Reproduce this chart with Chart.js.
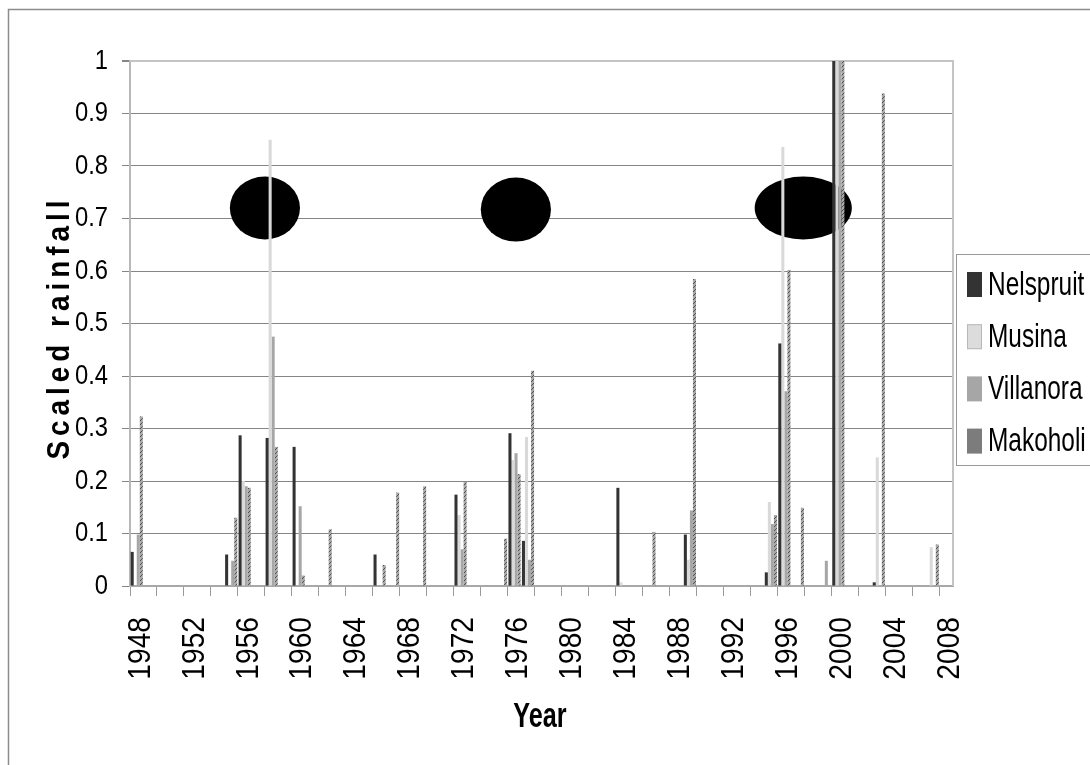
<!DOCTYPE html>
<html><head><meta charset="utf-8">
<script src="https://cdn.jsdelivr.net/npm/chart.js@4/dist/chart.umd.min.js"></script>
<style>html,body{margin:0;padding:0;background:#fff;overflow:hidden}canvas{display:block}</style>
</head><body>
<canvas id="c" width="1090" height="765" style="width:1090px;height:765px"></canvas>
<script>
// ---------- data ----------
const years = [
  '1948','1949','1950','1951','1952','1953','1954','1955','1956','1957',
  '1958','1959','1960','1961','1962','1963','1964','1965','1966','1967',
  '1968','1969','1970','1971','1972','1973','1974','1975','1976','1977',
  '1978','1979','1980','1981','1982','1983','1984','1985','1986','1987',
  '1988','1989','1990','1991','1992','1993','1994','1995','1996','1997',
  '1998','1999','2000','2001','2002','2003','2004','2005','2006','2007',
  '2008'];
const nelspruit = [
  0.065,0,0,0,0,0,0,0.06,0.287,0,
  0.282,0,0.265,0,0,0,0,0,0.06,0,
  0,0,0,0,0.174,0,0,0,0.291,0.086,
  0,0,0,0,0,0,0.187,0,0,0,
  0,0.098,0,0,0,0,0,0.026,0.462,0,
  0,0,1,0,0,0.007,0,0,0,0,
  0];
const musina = [
  0,0,0,0,0,0,0,0,0.2,0,
  0.85,0,0,0,0,0,0,0,0,0,
  0,0,0,0,0.135,0,0,0,0.24,0.284,
  0,0,0,0,0,0,0.007,0,0,0,
  0,0.05,0,0,0,0,0,0.16,0.836,0,
  0,0,1,0,0,0.245,0,0,0,0.074,
  0];
const villanora = [
  0.098,0,0,0,0,0,0,0.048,0.19,0,
  0.475,0,0.152,0,0,0,0,0,0,0,
  0,0,0,0,0.07,0,0,0,0.253,0.05,
  0,0,0,0,0,0,0,0,0,0,
  0,0.144,0,0,0,0,0,0.118,0.371,0,
  0,0.048,1,0,0,0,0,0,0,0,
  0];
const makoholi = [
  0.323,0,0,0,0,0,0,0.13,0.187,0,
  0.265,0,0.02,0,0.108,0,0,0,0.04,0.178,
  0,0.19,0,0,0.198,0,0,0.09,0.213,0.41,
  0,0,0,0,0,0,0,0,0.103,0,
  0,0.585,0,0,0,0,0,0.135,0.602,0.149,
  0,0,1,0,0,0.938,0,0,0,0.079,
  0];
const seriesNames = ['Nelspruit','Musina','Villanora','Makoholi'];
const yMin = 0, yMax = 1, yStep = 0.1;
const xTitle = 'Year';
const yTitle = 'Scaled rainfall';
// highlighted periods (annotation ellipses): centre year, centre value, half width (years), half height (value)
const highlights = [
  {year: 1957.5, value: 0.72, halfYears: 2.6, halfValue: 0.06},
  {year: 1976.1, value: 0.717, halfYears: 2.6, halfValue: 0.061},
  {year: 1997.4, value: 0.72, halfYears: 3.6, halfValue: 0.06}
];

// ---------- condensed text rendering (horizontal squeeze, marker family sxNN) ----------
const canvas = document.getElementById('c');
const cctx = canvas.getContext('2d');
const protoFill = CanvasRenderingContext2D.prototype.fillText;
cctx.fillText = function(t, x, y, mw){
  const m = /sx(\d+)/.exec(this.font);
  if (m) {
    const s = parseInt(m[1], 10) / 100;
    this.save(); this.translate(x, y); this.scale(s, 1);
    protoFill.call(this, t, 0, 0);
    this.restore();
  } else if (mw === undefined) protoFill.call(this, t, x, y);
  else protoFill.call(this, t, x, y, mw);
};
const fam = s => 'sx' + s + ', "Liberation Sans", Arial, sans-serif';

// ---------- styles ----------
function dotPattern(){
  const p = document.createElement('canvas'); p.width = 4; p.height = 4;
  const g = p.getContext('2d');
  g.fillStyle = '#a8a8a8'; g.fillRect(0,0,4,4);
  g.fillStyle = '#505050'; g.fillRect(0,0,1,1); g.fillRect(2,2,1,1); g.fillRect(1,3,1,1); g.fillRect(3,1,1,1);
  return g.createPattern(p,'repeat');
}
const colors = ['#333333','#d9d9d9','#a6a6a6', dotPattern()];
const swatchColors = ['#333333','#dcdcdc','#a6a6a6','#7c7c7c'];
const seriesData = [nelspruit, musina, villanora, makoholi];

// draw letter-spaced vertical (bottom-to-top) text, baseline at screen x = bx, centred on screen y = cy
function spacedVertical(ctx, text, bx, cy, font, squeeze, spacing){
  ctx.save();
  ctx.font = font;
  const widths = Array.from(text).map(ch => ctx.measureText(ch).width * squeeze);
  const total = widths.reduce((a, b) => a + b, 0) + spacing * (widths.length - 1);
  ctx.setTransform(1, 0, 0, 1, 0, 0);
  ctx.translate(bx, cy + total / 2);
  ctx.rotate(-Math.PI / 2);
  ctx.textAlign = 'left'; ctx.textBaseline = 'alphabetic'; ctx.fillStyle = '#000';
  let pos = 0;
  Array.from(text).forEach((ch, i) => {
    ctx.save(); ctx.translate(pos, 0); ctx.scale(squeeze, 1);
    protoFill.call(ctx, ch, 0, 0);
    ctx.restore();
    pos += widths[i] + spacing;
  });
  ctx.restore();
}

const decor = {
  id: 'decor',
  beforeDatasetsDraw(chart){
    const ctx = chart.ctx, xs = chart.scales.x, ys = chart.scales.y, a = chart.chartArea;
    ctx.save();
    ctx.strokeStyle = '#c4c4c4'; ctx.lineWidth = 2;
    ctx.beginPath(); ctx.moveTo(a.left, a.top); ctx.lineTo(a.right, a.top); ctx.lineTo(a.right, a.bottom); ctx.stroke();
    const first = parseInt(years[0], 10);
    highlights.forEach(h => {
      const cx = xs.getPixelForValue(h.year - first);
      const rx = Math.abs(xs.getPixelForValue(h.year - first + h.halfYears) - cx);
      const cy = ys.getPixelForValue(h.value);
      const ry = Math.abs(ys.getPixelForValue(h.value + h.halfValue) - cy);
      ctx.beginPath(); ctx.ellipse(cx, cy, rx, ry, 0, 0, Math.PI * 2);
      ctx.fillStyle = '#000'; ctx.fill();
    });
    ctx.restore();
  },
  afterDraw(chart){
    const ctx = chart.ctx;
    ctx.save();
    // outer frame (top & left)
    ctx.strokeStyle = '#8c8c8c'; ctx.lineWidth = 1.5;
    ctx.beginPath(); ctx.moveTo(8.5, 765); ctx.lineTo(8.5, 9.5); ctx.lineTo(1090, 9.5); ctx.stroke();
    // y title
    spacedVertical(ctx, yTitle, 69, 330, 'bold 31px "Liberation Sans", Arial, sans-serif', 0.9, 5);
    // x title
    ctx.font = 'bold 35px ' + fam(72);
    ctx.fillStyle = '#000'; ctx.textAlign = 'center'; ctx.textBaseline = 'middle';
    ctx.fillText(xTitle, 540, 717);
    // legend
    ctx.strokeStyle = '#9a9a9a'; ctx.lineWidth = 1;
    ctx.strokeRect(956.5, 254.5, 200, 211);
    ctx.font = '33px ' + fam(74); ctx.textAlign = 'left'; ctx.textBaseline = 'middle';
    seriesNames.forEach((n, i) => {
      const cy = 284.5 + i * 52.2;
      ctx.fillStyle = swatchColors[i];
      ctx.fillRect(967, cy - 12.5, 15, 25);
      if (i === 1) { ctx.strokeStyle = '#b8b8b8'; ctx.strokeRect(967.5, cy - 12, 14, 24); }
      ctx.fillStyle = '#000';
      ctx.fillText(n, 988, cy + 1);
    });
    ctx.restore();
  }
};

new Chart(canvas, {
  type: 'bar',
  data: {
    labels: years,
    datasets: seriesData.map((d, i) => ({
      label: seriesNames[i], data: d, backgroundColor: colors[i], borderWidth: 0,
      categoryPercentage: 0.9, barPercentage: 1.0
    }))
  },
  options: {
    responsive: false, animation: false, devicePixelRatio: 1,
    layout: {padding: {left: 0, right: 137, top: 61, bottom: 0}},
    plugins: {legend: {display: false}, tooltip: {enabled: false}},
    scales: {
      x: {
        grid: {display: true, drawOnChartArea: false, offset: true, tickLength: 10, tickWidth: 1,
               tickColor: c => (c.index !== undefined && c.index % 2 === 0) ? '#9a9a9a' : 'rgba(0,0,0,0)'},
        border: {display: true, color: '#a8a8a8', width: 2},
        ticks: {autoSkip: false, maxRotation: 90, minRotation: 90, padding: 21, labelOffset: 4,
                color: '#000', font: {size: 32, family: fam(88)},
                callback: (v, i) => i % 4 === 0 ? years[i] : ''},
        afterFit: s => { s.height = 179; }
      },
      y: {
        min: yMin, max: yMax,
        ticks: {stepSize: yStep, color: '#000', padding: 14, font: {size: 28, family: fam(85)},
                callback: v => String(Math.round(v * 10) / 10)},
        grid: {color: c => (c.tick && c.tick.value >= 0.999) ? '#c4c4c4' : '#858585',
               lineWidth: c => (c.tick && c.tick.value >= 0.999) ? 2 : 1,
               tickLength: 8, tickColor: '#858585'},
        border: {display: true, color: '#b8b8b8', width: 2},
        afterFit: s => { s.width = 130; }
      }
    }
  },
  plugins: [decor]
});
</script>
</body></html>
